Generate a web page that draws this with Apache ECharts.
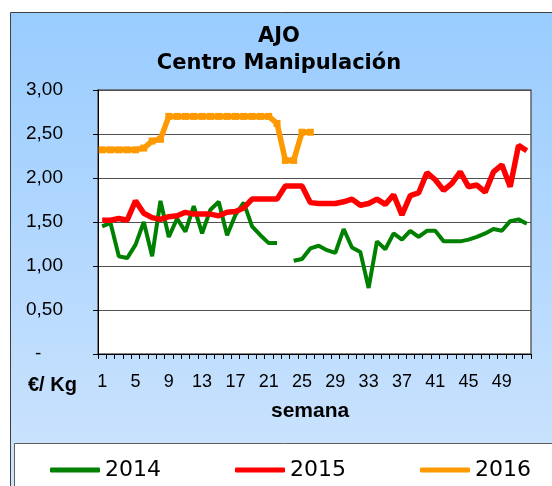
<!DOCTYPE html>
<html><head><meta charset="utf-8">
<script src="https://cdn.jsdelivr.net/npm/echarts@6/dist/echarts.min.js"></script>
<style>html,body{margin:0;padding:0;background:#fff;}#c{width:552px;height:486px;}</style>
</head><body><div id="c"></div>
<script>
var weeks = [];
for (var i = 1; i <= 52; i++) weeks.push(String(i));

var yTicks = [0, 0.5, 1, 1.5, 2, 2.5, 3];

var s2014 = [1.45,1.49,1.11,1.09,1.24,1.50,1.11,1.74,1.33,1.54,1.39,1.68,1.37,1.64,1.73,1.35,1.58,1.72,1.45,1.35,1.26,1.26,null,1.06,1.08,1.20,1.23,1.18,1.15,1.42,1.21,1.16,0.75,1.28,1.19,1.37,1.30,1.40,1.33,1.40,1.40,1.28,1.28,1.28,1.30,1.33,1.37,1.42,1.40,1.51,1.53,1.48];
var s2015 = [1.52,1.52,1.54,1.52,1.74,1.60,1.55,1.53,1.56,1.57,1.61,1.59,1.59,1.59,1.57,1.61,1.62,1.66,1.76,1.76,1.76,1.76,1.91,1.91,1.91,1.72,1.71,1.71,1.71,1.73,1.76,1.69,1.71,1.76,1.70,1.81,1.58,1.80,1.83,2.06,1.98,1.86,1.94,2.07,1.90,1.92,1.84,2.07,2.15,1.90,2.37,2.31];
var s2016 = [2.32,2.32,2.32,2.32,2.32,2.34,2.42,2.44,2.70,2.70,2.70,2.70,2.70,2.70,2.70,2.70,2.70,2.70,2.70,2.70,2.70,2.62,2.20,2.20,2.52,2.52];

var seriesNames = ['2014', '2015', '2016'];

var chart = echarts.init(document.getElementById('c'), null, {renderer: 'canvas'});
chart.setOption({
  animation: false,
  graphic: [
    {type: 'rect', z: -10, shape: {x: 10.5, y: 12.5, width: 600, height: 600},
     style: {fill: new echarts.graphic.LinearGradient(0, 0, 0, 1, [{offset: 0, color: '#99CCFF'}, {offset: 0.85, color: '#D2E6FD'}, {offset: 1, color: '#D8EAFD'}]), stroke: '#404040', lineWidth: 1}},
    {type: 'rect', z: -9, shape: {x: 14.5, y: 443.5, width: 600, height: 100},
     style: {fill: '#ffffff', stroke: '#606060', lineWidth: 1}},
    {type: 'text', left: 28, top: 375, style: {text: '€/ Kg', font: 'bold 20px "Liberation Sans", Arial', fill: '#000'}},
    {type: 'text', left: 271, top: 401, style: {text: 'semana', font: 'bold 21px "Liberation Sans", Arial', fill: '#000'}}
  ],
  title: {
    text: 'AJO\nCentro Manipulación',
    left: 279, top: 23, textAlign: 'center', padding: 0,
    textStyle: {fontFamily: 'DejaVu Sans', fontWeight: 'bold', fontSize: 21, lineHeight: 27, color: '#000'}
  },
  legend: {
    left: 50, top: 459, padding: 0, itemWidth: 50, itemHeight: 5, itemGap: 74,
    icon: 'roundRect',
    data: seriesNames,
    textStyle: {fontFamily: 'DejaVu Sans', fontSize: 22, color: '#000', padding: [0, 0, 0, 0]}
  },
  grid: {left: 98, top: 90, width: 433, height: 264, show: true, backgroundColor: '#ffffff', borderColor: '#606060', borderWidth: 1.5},
  xAxis: {
    type: 'category', data: weeks, boundaryGap: true,
    axisLine: {lineStyle: {color: '#000', width: 1}},
    axisTick: {show: true, interval: 0, length: 5, lineStyle: {color: '#000'}},
    axisLabel: {interval: 3, margin: 19, fontFamily: 'Liberation Sans', fontSize: 18, color: '#000'},
    splitLine: {show: false}
  },
  yAxis: {
    type: 'value', min: 0, max: 3, interval: 0.5,
    axisLine: {show: true, lineStyle: {color: '#000', width: 1}},
    axisTick: {show: true, length: 5, lineStyle: {color: '#000'}},
    axisLabel: {
      margin: 72, align: 'left', fontFamily: 'Liberation Sans', fontSize: 19, color: '#000',
      formatter: function (v) { return v === 0 ? '{z|-}' : v.toFixed(2).replace('.', ','); },
      rich: {z: {fontFamily: 'Liberation Sans', fontSize: 19, color: '#000', padding: [0, 0, 0, 9]}}
    },
    splitLine: {show: true, lineStyle: {color: '#505050', width: 1}}
  },
  series: [
    {name: seriesNames[0], type: 'line', data: s2014, symbol: 'none', connectNulls: false,
     lineStyle: {color: '#008000', width: 4}, itemStyle: {color: '#008000'}},
    {name: seriesNames[1], type: 'line', data: s2015, symbol: 'none',
     lineStyle: {color: '#FF0000', width: 5.5}, itemStyle: {color: '#FF0000'}},
    {name: seriesNames[2], type: 'line', data: s2016, symbol: 'rect', symbolSize: 7, showAllSymbol: true,
     lineStyle: {color: '#FF9900', width: 5.5}, itemStyle: {color: '#FF9900'}}
  ]
});
</script></body></html>
